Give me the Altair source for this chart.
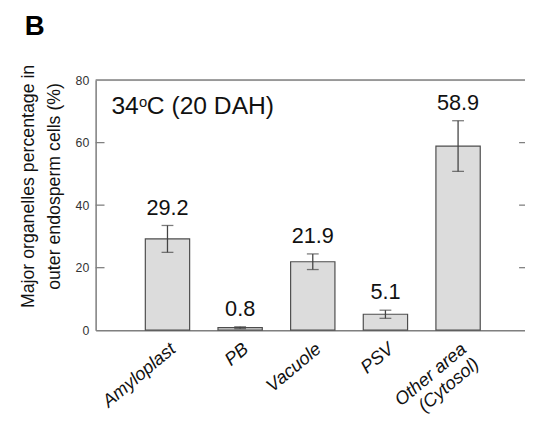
import altair as alt
import pandas as pd

categories = ["Amyloplast", "PB", "Vacuole", "PSV", "Other area (Cytosol)"]
means = [29.2, 0.8, 21.9, 5.1, 58.9]
sds = [4.3, 0.3, 2.5, 1.3, 8.1]
labels = ["29.2", "0.8", "21.9", "5.1", "58.9"]
inner_ticks = [20, 40, 60]
y_title = ["Major organelles percentage in", "outer endosperm cells (%)"]

FONT = "Liberation Sans"
W, H = 436, 254

df = pd.DataFrame({
    "cat": categories,
    "mean": means,
    "lo": [m - s for m, s in zip(means, sds)],
    "hi": [m + s for m, s in zip(means, sds)],
    "label": labels,
})
ticks_df = pd.DataFrame({"v": inner_ticks})

xscale = alt.Scale(domain=categories, paddingInner=0.39, paddingOuter=0.65, align=0.526)
yscale = alt.Scale(domain=[0, 80])

x_axis = alt.Axis(
    title=None, labelAngle=320, labelAlign="right", labelBaseline="top",
    labelFont=FONT, labelFontSize=18.5, labelFontStyle="italic", labelColor="#111",
    labelPadding=9, ticks=False, domainColor="#808080", domainWidth=1.5,
    labelExpr="datum.value == 'Other area (Cytosol)' ? ['Other area', '(Cytosol)'] : datum.value",
    labelLineHeight=20,
)
y_axis = alt.Axis(
    title=None,
    values=[0, 20, 40, 60, 80], labelFont=FONT, labelFontSize=12.5, labelColor="#333",
    labelPadding=7, ticks=False, grid=False, domainColor="#808080", domainWidth=1.5,
)

base = alt.Chart(df)

bars = base.mark_bar(fill="#dcdcdc", stroke="#4d4d4d", strokeWidth=1.2).encode(
    x=alt.X("cat:N", scale=xscale, axis=x_axis, sort=categories),
    y=alt.Y("mean:Q", scale=yscale, axis=y_axis),
)
err = base.mark_rule(color="#444", strokeWidth=1.3).encode(
    x=alt.X("cat:N", scale=xscale, sort=categories),
    y=alt.Y("lo:Q", scale=yscale),
    y2="hi:Q",
)
cap_hi = base.mark_tick(color="#444", size=12, thickness=1.3, orient="horizontal").encode(
    x=alt.X("cat:N", scale=xscale, sort=categories),
    y=alt.Y("hi:Q", scale=yscale),
)
cap_lo = base.mark_tick(color="#444", size=12, thickness=1.3, orient="horizontal").encode(
    x=alt.X("cat:N", scale=xscale, sort=categories),
    y=alt.Y("lo:Q", scale=yscale),
)
vals = base.mark_text(font=FONT, fontSize=22, color="#111", baseline="bottom", dy=-6).encode(
    x=alt.X("cat:N", scale=xscale, sort=categories),
    y=alt.Y("hi:Q", scale=yscale),
    text="label:N",
)

top_line = alt.Chart(pd.DataFrame({"v": [80]})).mark_rule(color="#808080", strokeWidth=1.5).encode(
    y=alt.Y("v:Q", scale=yscale), x=alt.value(0), x2=alt.value(W)
)
left_ticks = alt.Chart(ticks_df).mark_rule(color="#808080", strokeWidth=1.3).encode(
    y=alt.Y("v:Q", scale=yscale), x=alt.value(0), x2=alt.value(9)
)
right_ticks = alt.Chart(ticks_df).mark_rule(color="#808080", strokeWidth=1.3).encode(
    y=alt.Y("v:Q", scale=yscale), x=alt.value(W - 6), x2=alt.value(W)
)

ytitle = alt.Chart(pd.DataFrame({"t": [0]})).mark_text(
    font=FONT, fontSize=18, angle=270, align="center", baseline="top",
    lineHeight=27, color="#111"
).encode(x=alt.value(-77), y=alt.value(108), text=alt.value(y_title))

t34 = alt.Chart(pd.DataFrame({"t": ["34"]})).mark_text(
    font=FONT, fontSize=25, align="left", baseline="alphabetic", color="#111"
).encode(x=alt.value(16), y=alt.value(34), text="t:N")
tsup = alt.Chart(pd.DataFrame({"t": ["o"]})).mark_text(
    font=FONT, fontSize=15, align="left", baseline="alphabetic", color="#111"
).encode(x=alt.value(44), y=alt.value(27), text="t:N")
trest = alt.Chart(pd.DataFrame({"t": ["C (20 DAH)"]})).mark_text(
    font=FONT, fontSize=25, align="left", baseline="alphabetic", color="#111"
).encode(x=alt.value(52), y=alt.value(34), text="t:N")
panel = alt.Chart(pd.DataFrame({"t": ["B"]})).mark_text(
    font=FONT, fontSize=28, fontWeight="bold", align="left", baseline="alphabetic", color="#000"
).encode(x=alt.value(-72), y=alt.value(-46), text="t:N")

chart = alt.layer(
    bars, err, cap_hi, cap_lo, vals, top_line, left_ticks, right_ticks,
    ytitle, t34, tsup, trest, panel
).properties(
    width=W, height=H,
    autosize=alt.AutoSizeParams(type="none"),
    padding={"left": 89, "top": 70, "right": 0, "bottom": 89},
).configure_view(stroke=None).configure(background="white")

chart.save("out.html", embed_options={"renderer": "svg", "actions": False})
